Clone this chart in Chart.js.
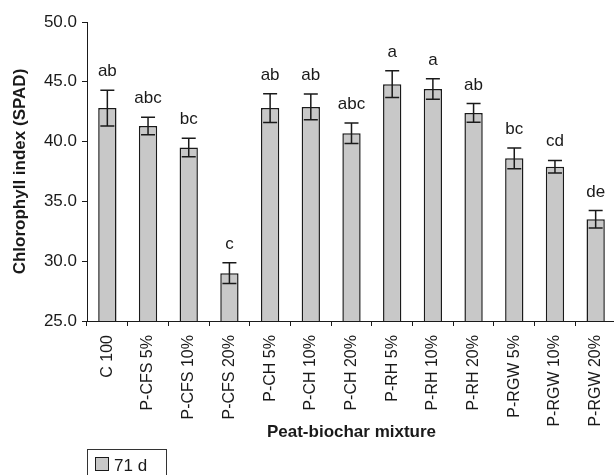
<!DOCTYPE html>
<html>
<head>
<meta charset="utf-8">
<script src="https://cdn.jsdelivr.net/npm/chart.js@4/dist/chart.umd.min.js"></script>
<style>
  html, body { margin: 0; padding: 0; background: #fff; overflow: hidden; }
  #wrap { width: 616px; height: 475px; }
</style>
</head>
<body>
<div id="wrap"><canvas id="chlChart" width="616" height="475"></canvas></div>
<script>
const categories = ['C 100', 'P-CFS 5%', 'P-CFS 10%', 'P-CFS 20%', 'P-CH 5%', 'P-CH 10%', 'P-CH 20%',
  'P-RH 5%', 'P-RH 10%', 'P-RH 20%', 'P-RGW 5%', 'P-RGW 10%', 'P-RGW 20%'];
const spad71d = [42.8, 41.3, 39.5, 29.0, 42.8, 42.9, 40.7, 44.8, 44.4, 42.4, 38.6, 37.9, 33.5];
const spadErr = [1.5, 0.73, 0.77, 0.87, 1.2, 1.07, 0.85, 1.12, 0.86, 0.78, 0.86, 0.53, 0.73];
const letters = ['ab', 'abc', 'bc', 'c', 'ab', 'ab', 'abc', 'a', 'a', 'ab', 'bc', 'cd', 'de'];
const yTicks = [25, 30, 35, 40, 45, 50];

const FONT = "'Liberation Sans', Arial, sans-serif";
const INK = '#1a1a1a';
const BAR_FILL = '#c8c8c8';

// error bars + significance letters on top of each bar
const errorBars = {
  id: 'errorBars',
  afterDatasetsDraw(chart) {
    const { ctx, scales: { y } } = chart;
    const meta = chart.getDatasetMeta(0);
    ctx.save();
    ctx.strokeStyle = INK;
    ctx.lineWidth = 1.5;
    ctx.fillStyle = INK;
    ctx.font = '17px ' + FONT;
    ctx.textAlign = 'center';
    ctx.textBaseline = 'alphabetic';
    meta.data.forEach((bar, i) => {
      const top = y.getPixelForValue(spad71d[i] + spadErr[i]);
      const bot = y.getPixelForValue(spad71d[i] - spadErr[i]);
      ctx.beginPath();
      ctx.moveTo(bar.x, top); ctx.lineTo(bar.x, bot);
      ctx.moveTo(bar.x - 7, top); ctx.lineTo(bar.x + 7, top);
      ctx.moveTo(bar.x - 7, bot); ctx.lineTo(bar.x + 7, bot);
      ctx.stroke();
      ctx.fillText(letters[i], bar.x, top - 14);
    });
    ctx.restore();
  }
};

// boxed legend under the x axis title
const boxLegend = {
  id: 'boxLegend',
  afterDraw(chart) {
    const { ctx, chartArea } = chart;
    const ds = chart.data.datasets[0];
    const x0 = chartArea.left;
    const y0 = 449;
    ctx.save();
    ctx.strokeStyle = '#333';
    ctx.lineWidth = 1;
    ctx.strokeRect(x0 + 0.5, y0 + 0.5, 79, 40);
    ctx.fillStyle = ds.backgroundColor;
    ctx.fillRect(x0 + 8, y0 + 8, 13, 13);
    ctx.strokeStyle = INK;
    ctx.strokeRect(x0 + 8.5, y0 + 8.5, 13, 13);
    ctx.fillStyle = INK;
    ctx.font = '17px ' + FONT;
    ctx.textBaseline = 'alphabetic';
    ctx.fillText(ds.label, x0 + 27, y0 + 22);
    ctx.restore();
  }
};

new Chart(document.getElementById('chlChart'), {
  type: 'bar',
  data: {
    labels: categories,
    datasets: [{
      label: '71 d',
      data: spad71d,
      backgroundColor: BAR_FILL,
      borderColor: INK,
      borderWidth: 1.5,
      barPercentage: 0.45,
      categoryPercentage: 1.0
    }]
  },
  options: {
    responsive: false,
    animation: false,
    layout: { padding: { top: 22, right: 0, bottom: 32, left: 0 } },
    plugins: { legend: { display: false }, tooltip: { enabled: false } },
    scales: {
      x: {
        offset: true,
        afterFit: (s) => { s.height = 122; s.paddingLeft = 0; s.paddingRight = 0; },
        grid: { offset: true, drawOnChartArea: false, drawTicks: true, tickLength: 5, color: INK },
        border: { display: true, color: INK, width: 1 },
        ticks: { autoSkip: false, minRotation: 90, maxRotation: 90, padding: 9, color: INK, font: { family: FONT, size: 16 } },
        title: { display: true, text: 'Peat-biochar mixture', color: INK, padding: 0, font: { family: FONT, size: 17, weight: 'bold' } }
      },
      y: {
        min: 25,
        max: 50,
        afterFit: (s) => { s.width = 87; },
        afterBuildTicks: (s) => { s.ticks = yTicks.map(v => ({ value: v })); },
        grid: { drawOnChartArea: false, drawTicks: true, tickLength: 5, color: INK },
        border: { display: true, color: INK, width: 1 },
        ticks: { padding: 5, color: INK, font: { family: FONT, size: 17 }, callback: (v) => Number(v).toFixed(1) },
        title: { display: true, text: 'Chlorophyll index (SPAD)', color: INK, padding: { top: 10, bottom: 0 }, font: { family: FONT, size: 17, weight: 'bold' } }
      }
    }
  },
  plugins: [errorBars, boxLegend]
});
</script>
</body>
</html>
